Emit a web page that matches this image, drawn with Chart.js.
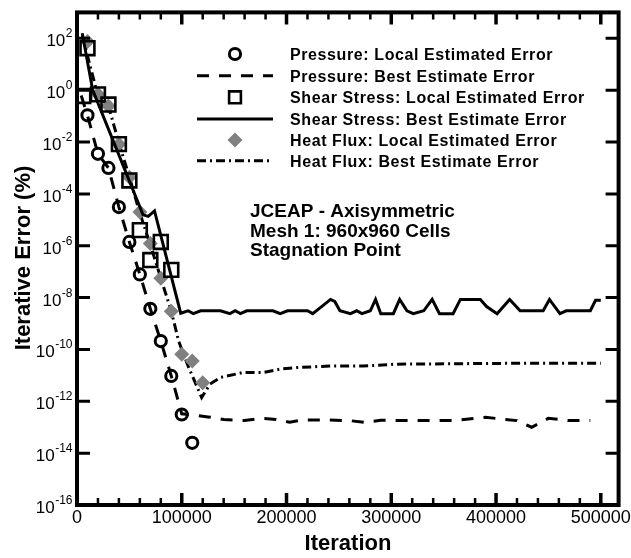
<!DOCTYPE html>
<html>
<head>
<meta charset="utf-8">
<script src="https://cdn.jsdelivr.net/npm/chart.js@4.4.0/dist/chart.umd.min.js"></script>
<style>
  html, body { margin: 0; padding: 0; background: #fff; }
  #wrap { width: 631px; height: 558px; }
</style>
</head>
<body>
<div id="wrap"><canvas id="c" width="631" height="558"></canvas></div>
<script>
const fontFamily = '"Liberation Sans", Arial, Helvetica, sans-serif';

// Pressure: local estimated error (symbols) and best estimate error (dashed line)
const pressureLocalIter = [10000, 20000, 30000, 40000, 50000, 60000, 70000, 80000, 90000, 100000, 110000];
const pressureLocalErr  = [1.07e-1, 3.5e-3, 1.0e-3, 3.1e-5, 1.4e-6, 7.8e-8, 3.7e-9, 2.1e-10, 9.5e-12, 3.1e-13, 2.5e-14];

const pressureBestIter = [4000, 10000, 20000, 30000, 40000, 50000, 60000, 70000, 80000, 90000, 100000,
  110000, 125000, 140000, 160000, 175000, 190000, 203000, 215000, 240000, 260000, 274000, 290000,
  330000, 360000, 390000, 420000, 434000, 450000, 470000, 490000];
const pressureBestErr = [0.62, 1.07e-1, 3.5e-3, 1.0e-3, 3.1e-5, 1.4e-6, 7.8e-8, 3.7e-9, 2.1e-10, 9.5e-12, 3.3e-13,
  3.0e-13, 2.5e-13, 2.0e-13, 1.8e-13, 2.2e-13, 2.0e-13, 1.55e-13, 1.9e-13, 1.9e-13, 1.8e-13, 1.55e-13, 1.85e-13,
  1.8e-13, 1.8e-13, 2.4e-13, 1.8e-13, 1.0e-13, 2.2e-13, 1.8e-13, 1.8e-13];

// Shear stress
const shearLocalIter = [6000, 10000, 20000, 30000, 40000, 50000, 60000, 70000, 80000, 90000];
const shearLocalErr  = [0.6, 41.7, 0.69, 0.28, 8.3e-3, 3.3e-4, 4.0e-6, 2.8e-7, 1.4e-6, 1.17e-7];

const shearBestIter = [5000, 15000, 63000, 68000, 74000, 99000,
  106000, 111000, 118000, 137000, 146000, 151000, 156000, 162000, 187000, 194000, 201000, 220000,
  225000, 235000, 242000, 246000, 251000, 261000, 267000, 272000, 280000, 285000, 290000, 302000,
  308000, 315000, 321000, 331000, 339000, 346000, 359000, 366000, 385000, 391000, 401000, 413000,
  423000, 445000, 451000, 461000, 467000, 490000, 495000, 500000];
const shearBestErr = [158, 1.0, 1.55e-5, 1.35e-5, 2.2e-5, 2.5e-9,
  3.1e-9, 2.4e-9, 3.1e-9, 3.1e-9, 2.4e-9, 3.1e-9, 2.4e-9, 3.1e-9, 3.1e-9, 2.4e-9, 3.1e-9, 3.1e-9,
  2.4e-9, 5.0e-9, 8.5e-9, 7.1e-9, 3.1e-9, 2.4e-9, 3.1e-9, 2.4e-9, 3.1e-9, 8.5e-9, 2.4e-9, 2.4e-9,
  8.5e-9, 3.1e-9, 2.4e-9, 3.1e-9, 8.5e-9, 2.4e-9, 2.4e-9, 8.5e-9, 8.5e-9, 4.5e-9, 2.4e-9, 8.5e-9,
  3.1e-9, 3.1e-9, 8.5e-9, 2.4e-9, 3.1e-9, 3.1e-9, 7.9e-9, 7.9e-9];

// Heat flux
const heatLocalIter = [10000, 20000, 30000, 40000, 50000, 60000, 70000, 80000, 90000, 100000, 110000, 120000];
const heatLocalErr  = [76, 0.69, 0.245, 8.3e-3, 4.4e-4, 2.0e-5, 1.23e-6, 5.6e-8, 2.95e-9, 6.5e-11, 3.6e-11, 5.2e-12];

const heatBestIter = [5000, 20000, 30000, 40000, 50000, 60000, 70000, 80000, 90000, 97000, 106000, 119000,
  127000, 137000, 159000, 178000, 194000, 210000, 242000, 273000, 305000, 404000, 500000];
const heatBestErr = [126, 0.6, 0.25, 9e-3, 4.5e-4, 1.8e-5, 1.1e-6, 5.6e-8, 3e-9, 2.1e-10, 2.3e-11, 1.4e-12,
  4.6e-12, 8.3e-12, 1.3e-11, 1.3e-11, 1.74e-11, 2.0e-11, 2.3e-11, 2.3e-11, 2.7e-11, 2.9e-11, 2.95e-11];

// Axis ticks
const xMajorTicks = [0, 100000, 200000, 300000, 400000, 500000];
const xMinorTicks = [20000, 40000, 60000, 80000, 120000, 140000, 160000, 180000, 220000, 240000, 260000, 280000,
  320000, 340000, 360000, 380000, 420000, 440000, 460000, 480000];
const yTickExponents = [-16, -14, -12, -10, -8, -6, -4, -2, 0, 2];

const xTitle = 'Iteration';
const yTitle = 'Iterative Error (%)';
const noteLines = ['JCEAP - Axisymmetric', 'Mesh 1: 960x960 Cells', 'Stagnation Point'];

const pairs = (xs, ys) => xs.map((x, i) => ({ x, y: ys[i] }));

const markerSet = (label, xs, ys, style, radius, color, fill, width) => ({
  label, data: pairs(xs, ys), showLine: false,
  pointStyle: style, pointRadius: radius, pointHoverRadius: radius,
  pointBorderColor: color, pointBackgroundColor: fill, pointBorderWidth: width,
  borderColor: color, backgroundColor: fill
});
const lineSet = (label, xs, ys, dash) => ({
  label, data: pairs(xs, ys), showLine: true, pointRadius: 0,
  borderColor: '#000', borderWidth: 3, borderDash: dash, fill: false, tension: 0
});

const datasets = [
  markerSet('Pressure: Local Estimated Error', pressureLocalIter, pressureLocalErr, 'circle', 5.6, '#000', 'rgba(0,0,0,0)', 3),
  lineSet('Pressure: Best Estimate Error', pressureBestIter, pressureBestErr, [12, 10]),
  markerSet('Shear Stress: Local Estimated Error', shearLocalIter, shearLocalErr, 'rect', 9.8, '#000', 'rgba(0,0,0,0)', 2.6),
  lineSet('Shear Stress: Best Estimate Error', shearBestIter, shearBestErr, []),
  markerSet('Heat Flux: Local Estimated Error', heatLocalIter, heatLocalErr, 'rectRot', 7.5, '#808080', '#808080', 0),
  lineSet('Heat Flux: Best Estimate Error', heatBestIter, heatBestErr, [9, 4, 2, 4])
];

function drawMarker(ctx, ds, x, y, scale) {
  ctx.save();
  ctx.fillStyle = ds.pointBackgroundColor;
  ctx.strokeStyle = ds.pointBorderColor;
  ctx.lineWidth = ds.pointBorderWidth;
  Chart.helpers.drawPoint(ctx, {
    pointStyle: ds.pointStyle, rotation: 0,
    radius: ds.pointRadius * scale, borderWidth: ds.pointBorderWidth
  }, x, y);
  ctx.restore();
}

const framePlugin = {
  id: 'frame',
  afterDraw(chart) {
    const { ctx, chartArea: a, scales: { x, y } } = chart;
    ctx.save();
    ctx.strokeStyle = '#000';
    ctx.fillStyle = '#000';
    ctx.lineCap = 'butt';

    // tick marks pointing into the plot on all four sides
    const vTick = (px, len, w) => {
      ctx.lineWidth = w;
      ctx.beginPath();
      ctx.moveTo(px, a.bottom); ctx.lineTo(px, a.bottom - len);
      ctx.moveTo(px, a.top); ctx.lineTo(px, a.top + len);
      ctx.stroke();
    };
    xMinorTicks.forEach(v => vTick(x.getPixelForValue(v), 7, 2.5));
    xMajorTicks.forEach(v => { if (v > 0) vTick(x.getPixelForValue(v), 12, 3.5); });
    yTickExponents.forEach(e => {
      const py = y.getPixelForValue(Math.pow(10, e));
      if (py >= a.bottom - 1) return;
      ctx.lineWidth = 3;
      ctx.beginPath();
      ctx.moveTo(a.left, py); ctx.lineTo(a.left + 13, py);
      ctx.moveTo(a.right, py); ctx.lineTo(a.right - 13, py);
      ctx.stroke();
    });

    // frame
    ctx.lineWidth = 4;
    ctx.strokeRect(a.left, a.top, a.right - a.left, a.bottom - a.top);

    // x tick labels
    ctx.font = `18px ${fontFamily}`;
    ctx.textAlign = 'center';
    ctx.textBaseline = 'alphabetic';
    xMajorTicks.forEach(v => ctx.fillText(String(v), x.getPixelForValue(v), 523));

    // y tick labels as 10 with a raised exponent
    ctx.textAlign = 'left';
    yTickExponents.forEach(e => {
      const py = y.getPixelForValue(Math.pow(10, e));
      const sup = String(e);
      ctx.font = `17px ${fontFamily}`;
      const bw = ctx.measureText('10').width;
      ctx.font = `12px ${fontFamily}`;
      const sw = ctx.measureText(sup).width;
      const x0 = a.left - 5 - bw - sw;
      ctx.font = `17px ${fontFamily}`;
      ctx.fillText('10', x0, py + 8);
      ctx.font = `12px ${fontFamily}`;
      ctx.fillText(sup, x0 + bw + 0.5, py - 1);
    });

    // axis titles
    ctx.font = `bold 22px ${fontFamily}`;
    ctx.textAlign = 'center';
    ctx.fillText(xTitle, 348, 550);
    ctx.save();
    ctx.translate(30, 258);
    ctx.rotate(-Math.PI / 2);
    ctx.fillText(yTitle, 0, 0);
    ctx.restore();

    // legend
    const rowBase = [60, 81.7, 103.3, 125, 146, 166.7];
    ctx.font = `bold 16px ${fontFamily}`;
    ctx.textAlign = 'left';
    if ('letterSpacing' in ctx) ctx.letterSpacing = '0.6px';
    chart.data.datasets.forEach((ds, i) => {
      const cy = rowBase[i] - 6;
      if (ds.showLine) {
        ctx.save();
        ctx.lineWidth = ds.borderWidth;
        ctx.strokeStyle = ds.borderColor;
        ctx.setLineDash(ds.borderDash || []);
        ctx.beginPath();
        ctx.moveTo(197, cy); ctx.lineTo(273, cy);
        ctx.stroke();
        ctx.restore();
      } else {
        drawMarker(ctx, ds, 235, cy, ds.pointStyle === 'rect' ? 0.85 : 1);
      }
      ctx.fillText(ds.label, 290, rowBase[i]);
    });

    // case description
    ctx.font = `bold 19px ${fontFamily}`;
    if ('letterSpacing' in ctx) ctx.letterSpacing = '0px';
    noteLines.forEach((t, i) => ctx.fillText(t, 250, 216.7 + i * 19.8));
    ctx.restore();
  }
};

new Chart(document.getElementById('c'), {
  type: 'scatter',
  data: { datasets },
  options: {
    responsive: false,
    animation: false,
    devicePixelRatio: 1,
    layout: { padding: { left: 77, right: 12, top: 10, bottom: 53 } },
    plugins: { legend: { display: false }, tooltip: { enabled: false } },
    scales: {
      x: { type: 'linear', min: 0, max: 517000, display: false },
      y: { type: 'logarithmic', min: 1e-16, max: 1e3, display: false }
    }
  },
  plugins: [framePlugin]
});
</script>
</body>
</html>
